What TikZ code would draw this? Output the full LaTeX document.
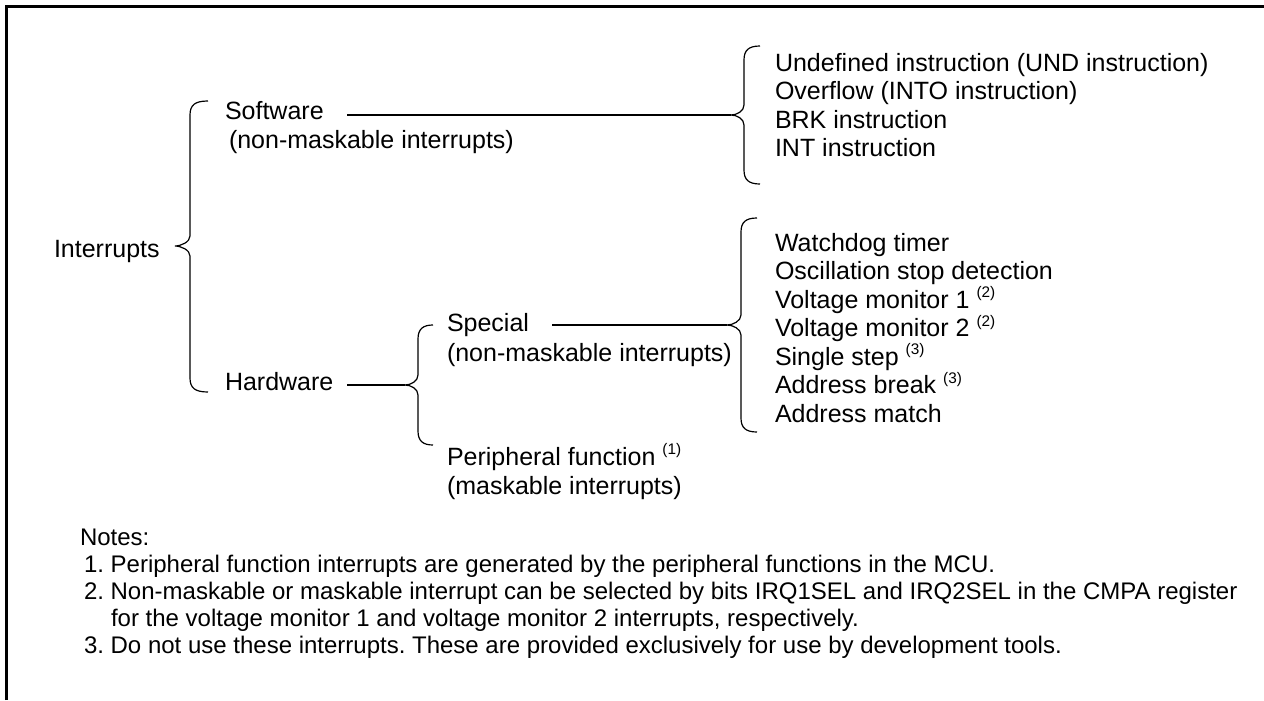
\documentclass[tikz,border=0pt]{standalone}
\usepackage{fontspec}
\setmainfont{Liberation Sans}
\frenchspacing
\newcommand{\supn}[1]{\raisebox{0.42em}{\fontsize{11.5}{12}\selectfont(#1)}}
% #1 x of tip, #2 x of stem, #3 x of ends, #4 y top, #5 y tip, #6 y bottom
\newcommand{\curlybrace}[6]{%
  \draw[bracestyle] (#3,#4) .. controls (#2+5,#4) and (#2,#4+4) .. (#2,#4+14)
    -- (#2,#5-10) .. controls (#2,#5-4) and (#1+6,#5) .. (#1,#5)
    .. controls (#1+6,#5) and (#2,#5+4) .. (#2,#5+10)
    -- (#2,#6-14) .. controls (#2,#6-4) and (#2+5,#6) .. (#3,#6);}
\begin{document}
\begin{tikzpicture}[x=0.75pt,y=-0.75pt,
  every node/.style={inner sep=0pt,outer sep=0pt,anchor=base west,font=\fontsize{18.75}{22}\selectfont},
  notes/.style={font=\fontsize{18}{21}\selectfont},
  conn/.style={line width=0.9pt},
  bracestyle/.style={line width=0.9pt}]
\useasboundingbox (0,0) rectangle (1264,700);
\draw[line width=2.4pt] (6.5,700) -- (6.5,6.5) -- (1264,6.5);

% level 0
\node (int) at (54,257) {Interrupts};
\curlybrace{175}{190}{208}{101}{246}{392}

% level 1
\node (sw) at (225,119) {Software};
\node (swn) at (229,148) {(non-maskable interrupts)};
\node (hw) at (225,390) {Hardware};

% software list
\coordinate (swL) at (347,115);
\coordinate (tipB) at (731,115);
\draw[conn] (swL) -- (tipB);
\curlybrace{731}{744}{760}{46}{115}{184}
\node (b1) at (775,71) {Undefined instruction (UND instruction)};
\node (b2) at (775,99.5) {Overflow (INTO instruction)};
\node (b3) at (775,128) {BRK instruction};
\node (b4) at (775,156.5) {INT instruction};

% hardware
\coordinate (hwL) at (347,385);
\coordinate (tipC) at (405,385);
\draw[conn] (hwL) -- (tipC);
\curlybrace{405}{418}{433}{325}{385}{445}
\node (sp) at (447,331) {Special};
\node (spn) at (447,361) {(non-maskable interrupts)};
\node (pf) at (447,465) {Peripheral function \supn{1}};
\node (pfm) at (447,494) {(maskable interrupts)};

% special list
\coordinate (spL) at (552,325);
\coordinate (tipD) at (727,325);
\draw[conn] (spL) -- (tipD);
\curlybrace{727}{741}{757}{218}{325}{432}
\node (d1) at (775,251) {Watchdog timer};
\node (d2) at (775,279.5) {Oscillation stop detection};
\node (d3) at (775,308) {Voltage monitor 1 \supn{2}};
\node (d4) at (775,336.5) {Voltage monitor 2 \supn{2}};
\node (d5) at (775,365) {Single step \supn{3}};
\node (d6) at (775,393.5) {Address break \supn{3}};
\node (d7) at (775,422) {Address match};

% notes
\node[notes] (nt) at (80,545) {Notes:};
\node[notes] (n1) at (84,572) {1. Peripheral function interrupts are generated by the peripheral functions in the MCU.};
\node[notes] (n2) at (84,599) {2. Non-maskable or maskable interrupt can be selected by bits IRQ1SEL and IRQ2SEL in the CMPA register};
\node[notes] (n2b) at (111,626) {for the voltage monitor 1 and voltage monitor 2 interrupts, respectively.};
\node[notes] (n3) at (84,653) {3. Do not use these interrupts. These are provided exclusively for use by development tools.};
\end{tikzpicture}
\end{document}
